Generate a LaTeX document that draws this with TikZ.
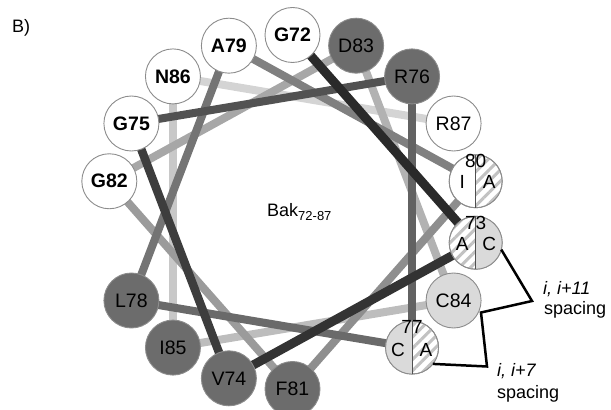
\documentclass[tikz,border=0pt]{standalone}
\usepackage{fontspec}
\setmainfont{Liberation Sans}
\usetikzlibrary{patterns.meta}
\pgfdeclarelayer{helixlayer}
\pgfsetlayers{helixlayer,main}

% residue fills
\definecolor{resdark}{HTML}{6C6C6C}
\definecolor{reslight}{HTML}{DADADA}
\definecolor{rimgray}{HTML}{8C8C8C}
\definecolor{hatchgray}{HTML}{C2C2C2}
\definecolor{divgray}{HTML}{505050}
% backbone shades, dark (N-terminus) to light (C-terminus)
\definecolor{b72}{HTML}{2A2A2A}
\definecolor{b73}{HTML}{333333}
\definecolor{b74}{HTML}{3D3D3D}
\definecolor{b75}{HTML}{525252}
\definecolor{b76}{HTML}{626262}
\definecolor{b77}{HTML}{6A6A6A}
\definecolor{b78}{HTML}{747474}
\definecolor{b79}{HTML}{808080}
\definecolor{b80}{HTML}{8E8E8E}
\definecolor{b81}{HTML}{9B9B9B}
\definecolor{b82}{HTML}{A7A7A7}
\definecolor{b83}{HTML}{B2B2B2}
\definecolor{b84}{HTML}{BDBDBD}
\definecolor{b85}{HTML}{C8C8C8}
\definecolor{b86}{HTML}{D4D4D4}

\tikzset{
  res/.style={circle, draw=rimgray, line width=0.9pt, minimum size=55pt,
    inner sep=0pt, outer sep=0pt, font=\fontsize{19.5}{19.5}\selectfont},
  whiteres/.style={res, fill=white},
  boldres/.style={res, fill=white, font=\fontsize{19.5}{19.5}\selectfont\bfseries},
  darkres/.style={res, fill=resdark},
  lightres/.style={res, fill=reslight},
  splitres/.style={res, minimum size=53pt, fill=white},
  hatch/.style={pattern={Lines[angle=45,distance=8pt,line width=3pt]},
    pattern color=hatchgray},
  rim/.style={draw=rimgray, line width=0.9pt},
  divider/.style={draw=divgray, line width=1pt},
  lbl/.style={inner sep=0pt, font=\fontsize{19}{19}\selectfont},
  txt/.style={inner sep=0pt, font=\fontsize{18}{18}\selectfont},
  helix/.style={line width=8pt},
  bracket/.style={draw=black, line width=2.5pt, line join=miter},
}

\begin{document}
\begin{tikzpicture}[x=1pt,y=1pt]
\useasboundingbox (0,0) rectangle (611,410);

\node[txt, anchor=base west] (panel) at (12,377) {B)};

% helical wheel: 100 degrees per residue
\begin{scope}[shift={(292.5,198)}]
  \node[boldres]  (r72) at (90:186 and 177)   {G72};
  \node[splitres] (r73) at (-10:186 and 177)  {};
  \node[darkres]  (r74) at (-110:186 and 177) {V74};
  \node[boldres]  (r75) at (150:186 and 177)  {G75};
  \node[darkres]  (r76) at (50:186 and 177)   {R76};
  \node[splitres] (r77) at (-50:186 and 177)  {};
  \node[darkres]  (r78) at (-150:186 and 177) {L78};
  \node[boldres]  (r79) at (110:186 and 177)  {A79};
  \node[splitres] (r80) at (10:186 and 177)   {};
  \node[darkres]  (r81) at (-90:186 and 177)  {F81};
  \node[boldres]  (r82) at (170:186 and 177)  {G82};
  \node[darkres]  (r83) at (70:186 and 177)   {D83};
  \node[lightres] (r84) at (-30:186 and 177)  {C84};
  \node[darkres]  (r85) at (-130:186 and 177) {I85};
  \node[boldres]  (r86) at (130:186 and 177)  {N86};
  \node[whiteres] (r87) at (30:186 and 177)   {R87};
\end{scope}

% split residues: 80 (I | A), 73 (A | C), 77 (C | A)
\fill[hatch] (r80.north) arc[start angle=90, end angle=-90, radius=26.5pt] -- cycle;
\fill[hatch] (r73.north) arc[start angle=90, end angle=270, radius=26.5pt] -- cycle;
\fill[reslight] (r73.north) arc[start angle=90, end angle=-90, radius=26.5pt] -- cycle;
\fill[reslight] (r77.north) arc[start angle=90, end angle=270, radius=26.5pt] -- cycle;
\fill[hatch] (r77.north) arc[start angle=90, end angle=-90, radius=26.5pt] -- cycle;
\foreach \s in {r80,r73,r77}{
  \draw[rim] (\s.center) circle[radius=26.5pt];
  \draw[divider] (\s.north) -- (\s.south);
}
\node[lbl] (r80num) at ([yshift=20pt]r80.center) {80};
\node[lbl] (r80l) at ([xshift=-13.5pt,yshift=-1pt]r80.center) {I};
\node[lbl] (r80r) at ([xshift=13.5pt,yshift=-1pt]r80.center) {A};
\node[lbl] (r73num) at ([yshift=20pt]r73.center) {73};
\node[lbl] (r73l) at ([xshift=-13.5pt,yshift=-1pt]r73.center) {A};
\node[lbl] (r73r) at ([xshift=13.5pt,yshift=-1pt]r73.center) {C};
\node[lbl] (r77num) at ([yshift=21pt]r77.center) {77};
\node[lbl] (r77l) at ([xshift=-14pt,yshift=-2pt]r77.center) {C};
\node[lbl] (r77r) at ([xshift=14pt,yshift=-2pt]r77.center) {A};

% backbone, lightest first so darker segments lie on top
\begin{pgfonlayer}{helixlayer}
  \draw[helix, draw=b86] (r86.center) -- (r87.center);
  \draw[helix, draw=b85] (r85.center) -- (r86.center);
  \draw[helix, draw=b84] (r84.center) -- (r85.center);
  \draw[helix, draw=b83] (r83.center) -- (r84.center);
  \draw[helix, draw=b82] (r82.center) -- (r83.center);
  \draw[helix, draw=b81] (r81.center) -- (r82.center);
  \draw[helix, draw=b80] (r80.center) -- (r81.center);
  \draw[helix, draw=b79] (r79.center) -- (r80.center);
  \draw[helix, draw=b78] (r78.center) -- (r79.center);
  \draw[helix, draw=b77] (r77.center) -- (r78.center);
  \draw[helix, draw=b76] (r76.center) -- (r77.center);
  \draw[helix, draw=b75] (r75.center) -- (r76.center);
  \draw[helix, line width=8.5pt, draw=b74] (r74.center) -- (r75.center);
  \draw[helix, line width=9pt, draw=b73] (r73.center) -- (r74.center);
  \draw[helix, line width=9pt, draw=b72] (r72.center) -- (r73.center);
\end{pgfonlayer}

\node[txt, anchor=base west] (peptide) at (267,193)
  {Bak\textsubscript{\fontsize{13}{13}\selectfont 72-87}};

% spacing brackets
\coordinate (k1) at (532,109);
\coordinate (k2) at (481,97.5);
\coordinate (k3) at (487,43.5);
\draw[bracket] (r73.-15) -- (k1) -- (k2) -- (k3) -- (r77.-38);

\node[txt, anchor=base west, font=\fontsize{18}{18}\selectfont\itshape] (sp11a) at (543,115) {i, i+11};
\node[txt, anchor=base west] (sp11b) at (544,95) {spacing};
\node[txt, anchor=base west, font=\fontsize{18}{18}\selectfont\itshape] (sp7a) at (497,33) {i, i+7};
\node[txt, anchor=base west] (sp7b) at (497,12) {spacing};
\end{tikzpicture}
\end{document}
